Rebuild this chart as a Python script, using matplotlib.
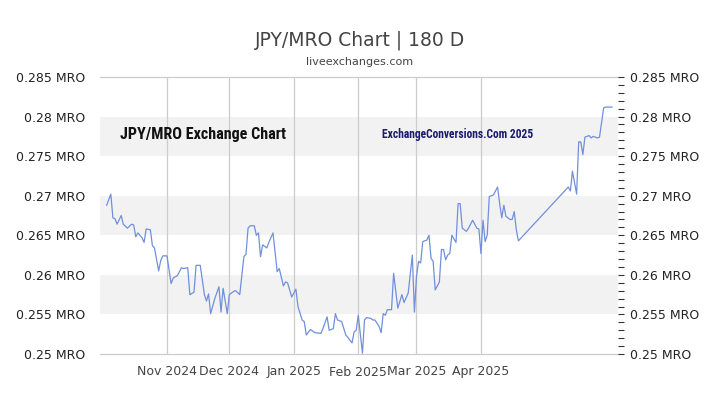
import matplotlib
matplotlib.use("Agg")
import matplotlib.pyplot as plt
from matplotlib.ticker import MultipleLocator, FuncFormatter
from matplotlib import font_manager
import pandas as pd

# JPY/MRO daily rate
dates = ["2024-10-03", "2024-10-05", "2024-10-06", "2024-10-07", "2024-10-08", "2024-10-10", "2024-10-11", "2024-10-13", "2024-10-15", "2024-10-16",
         "2024-10-17", "2024-10-18", "2024-10-20", "2024-10-21", "2024-10-22", "2024-10-24", "2024-10-25", "2024-10-26", "2024-10-28", "2024-10-29",
         "2024-10-30", "2024-11-01", "2024-11-03", "2024-11-04", "2024-11-06", "2024-11-08", "2024-11-09", "2024-11-11", "2024-11-12", "2024-11-14",
         "2024-11-15", "2024-11-17", "2024-11-19", "2024-11-20", "2024-11-21", "2024-11-22", "2024-11-24", "2024-11-26", "2024-11-27", "2024-11-28",
         "2024-11-30", "2024-12-01", "2024-12-03", "2024-12-04", "2024-12-06", "2024-12-08", "2024-12-09", "2024-12-10", "2024-12-11", "2024-12-13",
         "2024-12-14", "2024-12-15", "2024-12-16", "2024-12-17", "2024-12-19", "2024-12-20", "2024-12-22", "2024-12-24", "2024-12-25", "2024-12-27",
         "2024-12-28", "2024-12-29", "2024-12-31", "2025-01-02", "2025-01-03", "2025-01-05", "2025-01-06", "2025-01-07", "2025-01-09", "2025-01-11",
         "2025-01-14", "2025-01-15", "2025-01-17", "2025-01-18", "2025-01-20", "2025-01-21", "2025-01-22", "2025-01-24", "2025-01-26", "2025-01-27",
         "2025-01-29", "2025-01-30", "2025-01-31", "2025-02-01", "2025-02-03", "2025-02-04", "2025-02-05", "2025-02-07", "2025-02-08", "2025-02-09",
         "2025-02-11", "2025-02-12", "2025-02-13", "2025-02-14", "2025-02-15", "2025-02-17", "2025-02-18", "2025-02-20", "2025-02-22", "2025-02-23",
         "2025-02-25", "2025-02-27", "2025-02-28", "2025-03-01", "2025-03-02", "2025-03-03", "2025-03-04", "2025-03-06", "2025-03-07", "2025-03-08",
         "2025-03-09", "2025-03-10", "2025-03-12", "2025-03-13", "2025-03-14", "2025-03-15", "2025-03-16", "2025-03-17", "2025-03-18", "2025-03-20",
         "2025-03-21", "2025-03-22", "2025-03-23", "2025-03-25", "2025-03-26", "2025-03-28", "2025-03-30", "2025-03-31", "2025-04-01", "2025-04-02",
         "2025-04-03", "2025-04-04", "2025-04-05", "2025-04-07", "2025-04-09", "2025-04-10", "2025-04-11", "2025-04-12", "2025-04-13", "2025-04-15",
         "2025-04-16", "2025-04-17", "2025-04-18", "2025-04-19",
         "2025-05-13", "2025-05-14", "2025-05-15", "2025-05-17", "2025-05-18", "2025-05-19", "2025-05-20", "2025-05-21", "2025-05-23", "2025-05-24",
         "2025-05-25", "2025-05-27", "2025-05-28", "2025-05-30", "2025-05-31", "2025-06-03"]

rates = [0.2688, 0.2702, 0.2672, 0.2671, 0.2664, 0.2675, 0.2664, 0.2659, 0.2664, 0.2663,
         0.2648, 0.2653, 0.2647, 0.2641, 0.2658, 0.2657, 0.2637, 0.2634, 0.2605, 0.2618,
         0.2624, 0.2624, 0.2589, 0.2596, 0.2599, 0.2609, 0.2608, 0.2609, 0.2575, 0.2578,
         0.2612, 0.2612, 0.2575, 0.2567, 0.2576, 0.2551, 0.2570, 0.2585, 0.2553, 0.2583,
         0.2551, 0.2575, 0.2579, 0.2580, 0.2575, 0.2623, 0.2626, 0.2659, 0.2662, 0.2662,
         0.2650, 0.2653, 0.2623, 0.2638, 0.2634, 0.2641, 0.2653, 0.2604, 0.2608, 0.2586,
         0.2591, 0.2590, 0.2572, 0.2582, 0.2560, 0.2543, 0.2541, 0.2524, 0.2531, 0.2527,
         0.2526, 0.2532, 0.2547, 0.2530, 0.2532, 0.2551, 0.2543, 0.2541, 0.2524, 0.2521,
         0.2514, 0.2528, 0.2530, 0.2549, 0.2501, 0.2543, 0.2546, 0.2545, 0.2543, 0.2543,
         0.2535, 0.2527, 0.2551, 0.2549, 0.2556, 0.2556, 0.2602, 0.2558, 0.2575, 0.2565,
         0.2577, 0.2625, 0.2553, 0.2598, 0.2617, 0.2615, 0.2642, 0.2644, 0.2650, 0.2621,
         0.2617, 0.2581, 0.2591, 0.2632, 0.2632, 0.2619, 0.2625, 0.2627, 0.2650, 0.2641,
         0.2690, 0.2690, 0.2659, 0.2655, 0.2659, 0.2669, 0.2659, 0.2658, 0.2627, 0.2669,
         0.2642, 0.2650, 0.2699, 0.2701, 0.2711, 0.2690, 0.2672, 0.2688, 0.2674, 0.2670,
         0.2670, 0.2680, 0.2657, 0.2643,
         0.2711, 0.2706, 0.2731, 0.2702, 0.2768, 0.2768, 0.2752, 0.2774, 0.2776, 0.2773,
         0.2775, 0.2773, 0.2774, 0.2811, 0.2812, 0.2812]

month_ticks = ["2024-11-01", "2024-12-01", "2025-01-01", "2025-02-01", "2025-03-01", "2025-04-01"]
month_labels = ["Nov 2024", "Dec 2024", "Jan 2025", "Feb 2025", "Mar 2025", "Apr 2025"]
bands = [(0.255, 0.26), (0.265, 0.27), (0.275, 0.28)]

x = pd.to_datetime(dates)
ticks = pd.to_datetime(month_ticks)

# narrow font for the two captions inside the plot, if one is around
names = {f.name for f in font_manager.fontManager.ttflist}
narrow = None
for n in ["Liberation Sans Narrow", "DejaVu Sans Condensed", "Roboto Condensed", "Open Sans Condensed"]:
    if n in names:
        narrow = n
        break

fig = plt.figure(figsize=(7.2, 4.05), dpi=100)
ax = fig.add_axes([100 / 720, 1 - 354 / 405, 518 / 720, 277 / 405])

for lo, hi in bands:
    ax.axhspan(lo, hi, color="#f2f2f2", lw=0, zorder=0)
for t in ticks:
    ax.axvline(t, color="#cccccc", lw=0.9, zorder=1)

ax.plot(x, rates, color="#7090dc", lw=0.9, zorder=3)

nov1 = pd.Timestamp("2024-11-01")
ax.set_xlim(nov1 - pd.Timedelta(days=32.2), nov1 + pd.Timedelta(days=216.9))
ax.set_ylim(0.25, 0.285)

ax2 = ax.twinx()
ax2.set_ylim(ax.get_ylim())

for s in ["left", "right"]:
    ax.spines[s].set_visible(False)
for s in ["top", "bottom"]:
    ax.spines[s].set_color("#cccccc")
    ax.spines[s].set_linewidth(0.9)
for s in ax2.spines.values():
    s.set_visible(False)

ax.set_xticks(ticks)
ax.set_xticklabels(month_labels, color="#444444", fontsize=9)
ax.tick_params(axis="x", length=0, pad=8)
for lbl in ax.get_xticklabels():
    if lbl.get_text() == "Feb 2025":
        lbl.set_y(-0.005)

fmt = FuncFormatter(lambda v, p: ("%.3f" % v).rstrip("0").rstrip(".") + " MRO")
ax.yaxis.set_major_locator(MultipleLocator(0.005))
ax.yaxis.set_major_formatter(fmt)
ax.tick_params(axis="y", which="both", left=False, right=False, labelsize=9, labelcolor="#222222", pad=7)

ax2.yaxis.set_major_locator(MultipleLocator(0.005))
ax2.yaxis.set_minor_locator(MultipleLocator(0.001))
ax2.yaxis.set_major_formatter(fmt)
ax2.tick_params(axis="y", which="major", length=4, width=0.8, color="#333333", labelsize=9, labelcolor="#222222", pad=5)
ax2.tick_params(axis="y", which="minor", length=4, width=0.8, color="#333333")

fig.text(0.5, 1 - 40 / 405, "JPY/MRO Chart | 180 D", ha="center", va="center", fontsize=13.5, color="#444444")
fig.text(0.5, 1 - 62 / 405, "liveexchanges.com", ha="center", va="center", fontsize=8, color="#444444")

if narrow:
    cap_kw = dict(family=[narrow, "DejaVu Sans"], fontweight="bold")
    s1, s2 = 11.6, 8.3
else:
    cap_kw = dict(family=["DejaVu Sans"], fontweight="bold", fontstretch="condensed")
    s1, s2 = 9.5, 7.6
fig.text(120 / 720, 1 - 135 / 405, "JPY/MRO Exchange Chart", ha="left", va="center",
         fontsize=s1, color="#111111", **cap_kw)
fig.text(382 / 720, 1 - 135 / 405, "ExchangeConversions.Com 2025", ha="left", va="center",
         fontsize=s2, color="#1a1a6e", **cap_kw)

fig.savefig("out.png", dpi=100)
